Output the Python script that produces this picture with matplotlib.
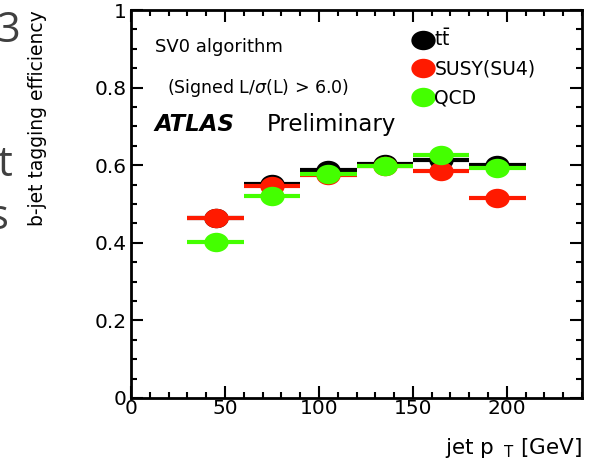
import numpy as np
import matplotlib.pyplot as plt
from matplotlib.path import Path
from matplotlib.lines import Line2D

# jet pT bins [GeV]
bin_centers = [45, 75, 105, 135, 165, 195]
bin_half_width = [15, 15, 15, 15, 15, 15]

# b-jet tagging efficiency per sample
eff_ttbar = [0.465, 0.551, 0.588, 0.603, 0.613, 0.600]
eff_susy = [0.463, 0.547, 0.575, 0.598, 0.586, 0.516]
eff_qcd = [0.402, 0.521, 0.578, 0.598, 0.626, 0.592]

samples = ["$\\mathrm{t\\bar{t}}$", "SUSY(SU4)", "QCD"]
colors = ["#000000", "#ff1a00", "#44ff00"]

yticks = [0, 0.2, 0.4, 0.6, 0.8, 1.0]
ytick_labels = ["0", "0.2", "0.4", "0.6", "0.8", "1"]
xticks = [0, 50, 100, 150, 200]

plt.rcParams["font.family"] = "DejaVu Sans"
plt.rcParams["mathtext.fontset"] = "dejavusans"

# slightly flattened dot, like the stretched ROOT markers
circ = Path.unit_circle()
ellipse = Path(circ.vertices * np.array([1.0, 0.8]), circ.codes)

fig = plt.figure(figsize=(5.95, 4.68), dpi=100)
ax = fig.add_axes([0.2202, 0.1496, 0.758, 0.829])

for vals, col in zip([eff_ttbar, eff_susy, eff_qcd], colors):
    ax.errorbar(bin_centers, vals, xerr=bin_half_width, fmt="none",
                ecolor=col, elinewidth=3.0, capsize=0)
    ax.plot(bin_centers, vals, linestyle="none", marker=ellipse,
            markersize=17.5, color=col, markeredgewidth=0)

ax.set_xlim(0, 240)
ax.set_ylim(0, 1)
ax.set_xticks(xticks)
ax.set_xticks(np.arange(0, 241, 10), minor=True)
ax.set_yticks(yticks)
ax.set_yticklabels(ytick_labels)
ax.set_yticks(np.arange(0, 1.001, 0.05), minor=True)
ax.tick_params(which="both", direction="in", top=True, right=True,
               width=1.5, labelsize=14.5, colors="black")
ax.tick_params(which="major", length=8.5)
ax.tick_params(which="minor", length=4)
ax.tick_params(axis="x", pad=1)
ax.tick_params(axis="y", pad=3)
for sp in ax.spines.values():
    sp.set_linewidth(2.0)

ax.set_ylabel("b-jet tagging efficiency", fontsize=13.5, loc="top")
ax.yaxis.set_label_coords(-0.208, 1.0)
ax.yaxis.label.set_verticalalignment("center")
ax.set_xlabel("jet p$_{\\rm\\ \\ T}$ [GeV]", fontsize=15.5, loc="right")
ax.xaxis.set_label_coords(1.0, -0.13)
ax.xaxis.label.set_verticalalignment("center")

ax.text(0.053, 0.905, "SV0 algorithm", transform=ax.transAxes,
        fontsize=13, va="center")
ax.text(0.08, 0.80, "(Signed L/$\\sigma$(L) > 6.0)", transform=ax.transAxes,
        fontsize=12.5, va="center")
ax.text(0.053, 0.705, "ATLAS", transform=ax.transAxes, fontsize=16.5,
        fontweight="bold", fontstyle="italic", va="center")
ax.text(0.3, 0.705, "Preliminary", transform=ax.transAxes, fontsize=16.5,
        va="center")

handles = [Line2D([], [], linestyle="none", marker=ellipse, markersize=17.5,
                  color=c, markeredgewidth=0) for c in colors]
ax.legend(handles, samples, loc="upper left", bbox_to_anchor=(0.6, 0.986),
          frameon=False, fontsize=13.5, handlelength=0.9, handletextpad=0.15,
          labelspacing=0.5, borderpad=0.2)

# leftover slide text at the left edge
fig.text(-0.006, 0.933, "3", fontsize=30, color="#404040",
         family="Open Sans", va="center", ha="left")
fig.text(0.02, 0.647, "t", fontsize=30, color="#404040",
         family="Open Sans", va="center", ha="right")
fig.text(0.014, 0.535, "s", fontsize=30, color="#404040",
         family="Open Sans", va="center", ha="right")

fig.savefig("out.png", dpi=100)
